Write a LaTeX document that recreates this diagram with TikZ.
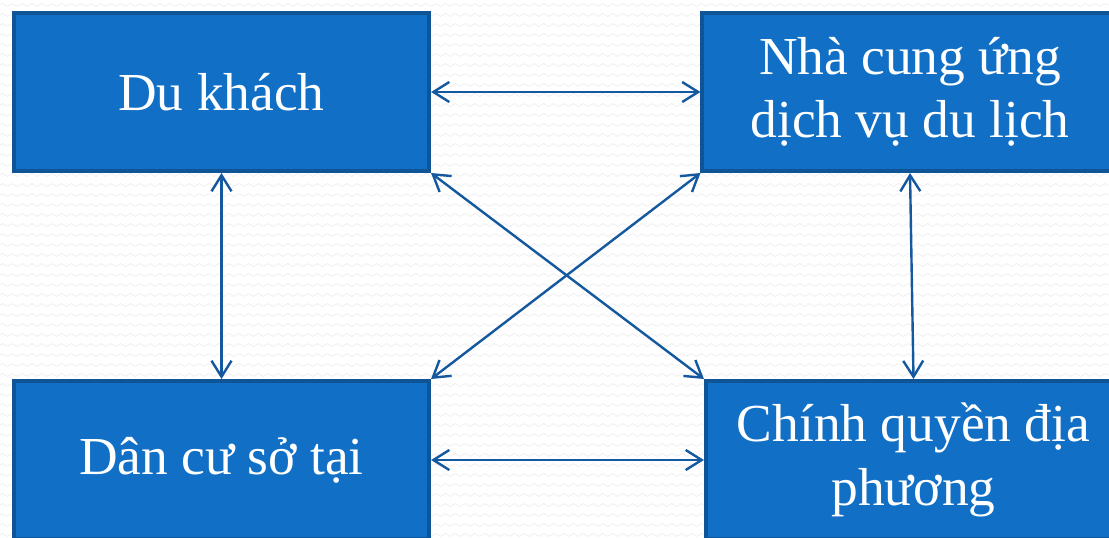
\documentclass[tikz,border=0pt]{standalone}
\usepackage{fontspec}
\setmainfont{Liberation Serif}
\usetikzlibrary{arrows.meta,decorations.pathmorphing}
\definecolor{boxfill}{RGB}{17,112,198}
\definecolor{boxline}{RGB}{14,84,150}
\definecolor{linkblue}{RGB}{20,88,160}
\definecolor{zigzag}{RGB}{238,238,238}

\begin{document}
\begin{tikzpicture}[x=0.025cm,y=-0.025cm,
  actor/.style={draw=boxline,fill=boxfill,line width=0.1cm,text=white,
    minimum width=10.375cm,minimum height=3.95cm,inner sep=0pt,align=center,
    font=\fontsize{38}{45}\selectfont},
  link/.style={linkblue,line width=0.06cm,
    {Straight Barb[length=0.4cm,width=0.5cm]}-{Straight Barb[length=0.4cm,width=0.5cm]}}]
  \useasboundingbox (0,0) rectangle (1109,538);
  % paper
  \fill[white] (0,0) rectangle (1109,538);
  \foreach \y in {5,15,...,535}
    \draw[zigzag,line width=0.5pt,decorate,
      decoration={zigzag,segment length=7pt,amplitude=1pt}] (0,\y) -- (1109,\y);
  % the four parties
  \node[actor] (du) at (221.5,92) {Du khách};
  \node[actor] (ncc) at (910,92) {Nhà cung ứng\\dịch vụ du lịch};
  \node[actor] (dan) at (221.5,460) {Dân cư sở tại};
  \node[actor] (cq) at (913.5,460) {Chính quyền địa\\phương};
  % two-way links
  \draw[link] (du.east) -- (ncc.west);
  \draw[link] (dan.east) -- (cq.west);
  \draw[link] (du.south) -- (dan.north);
  \draw[link] (ncc.south) -- (cq.north);
  \draw[link] (du.south east) -- (cq.north west);
  \draw[link] (ncc.south west) -- (dan.north east);
\end{tikzpicture}
\end{document}
